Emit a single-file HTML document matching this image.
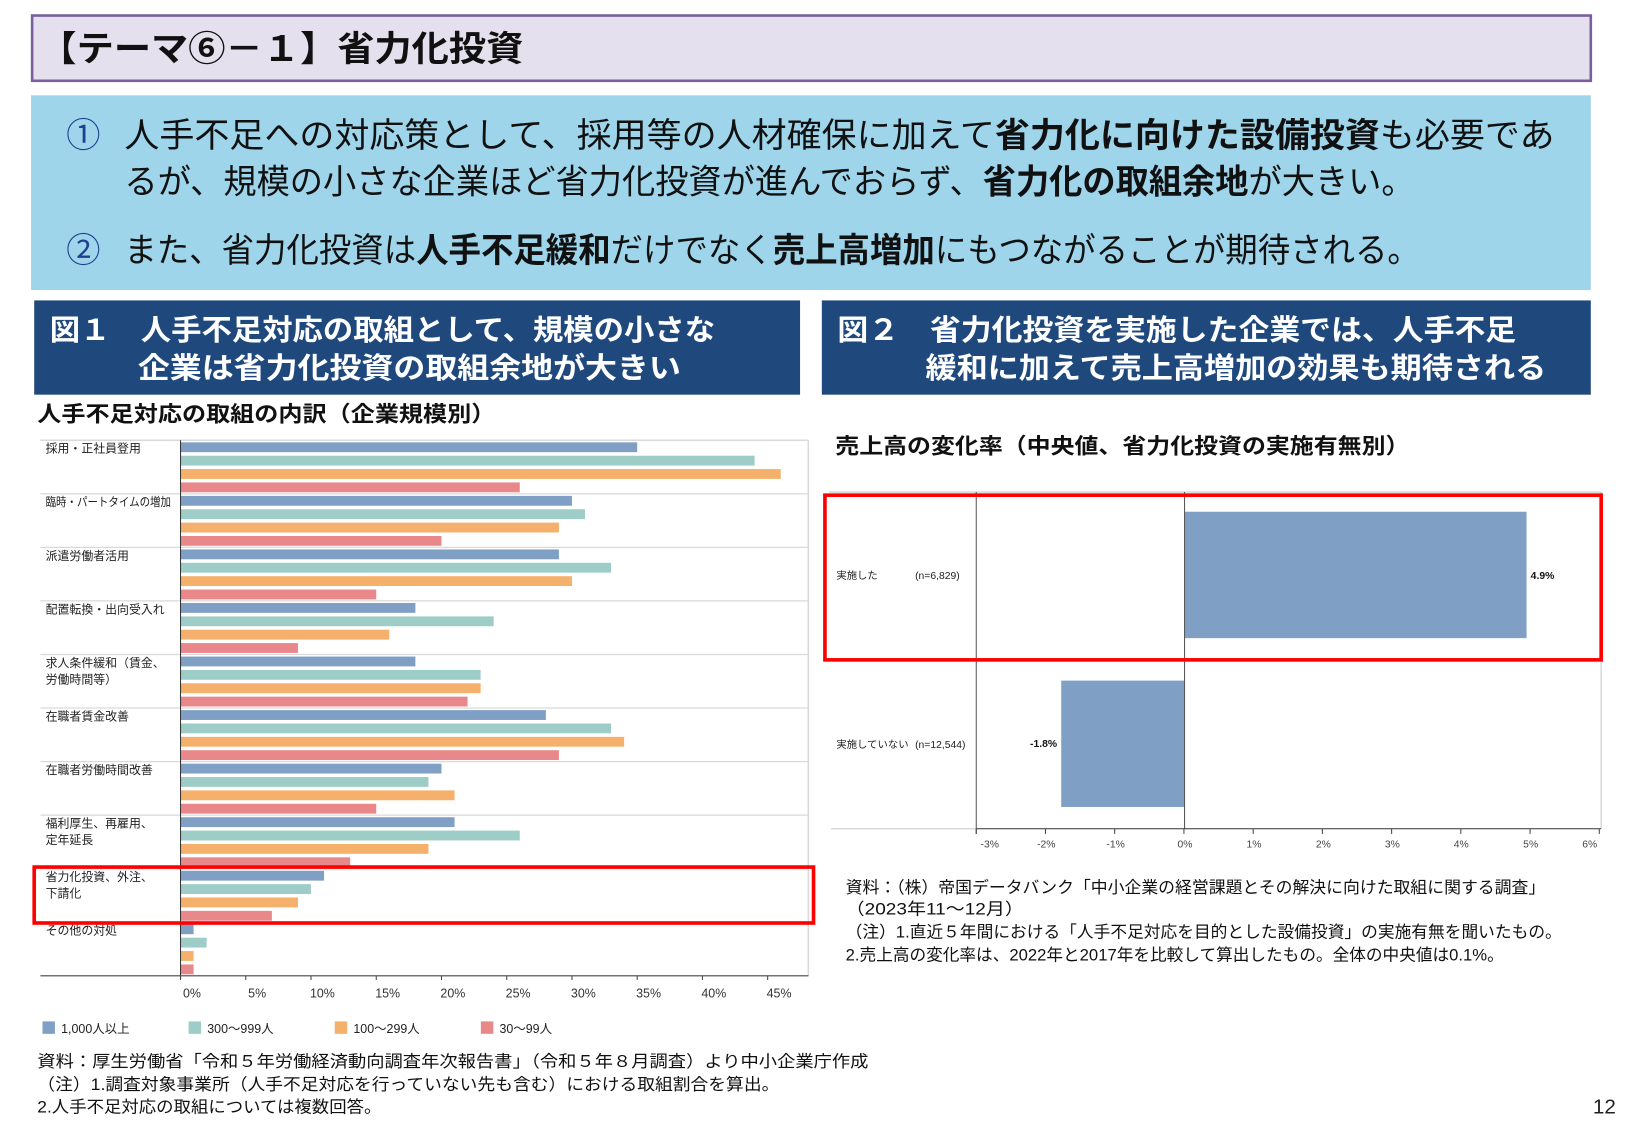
<!DOCTYPE html>
<html><head><meta charset="utf-8"><style>
html,body{margin:0;padding:0;background:#fff;}
svg{display:block;}
text{font-family:"Liberation Sans","Noto Sans CJK JP",sans-serif;}
.b{font-weight:bold;}
</style></head><body>
<svg id="s" width="1625" height="1125" viewBox="0 0 1568 1086" preserveAspectRatio="none" xmlns="http://www.w3.org/2000/svg">
<rect x="0" y="0" width="1568" height="1086" fill="#fff"/>
<rect x="31" y="15" width="1504" height="63" fill="#e5e0ed" stroke="#7b5e9c" stroke-width="2.5"/>
<text x="38" y="59" font-size="34" class="b" fill="#111" textLength="467" lengthAdjust="spacingAndGlyphs">【テーマ⑥－１】省力化投資</text>
<rect x="30" y="92" width="1505" height="188" fill="#9ed5eb"/>
<text x="64" y="142" font-size="33" fill="#1f3f8f">①</text>
<text x="64" y="253" font-size="33" fill="#1f3f8f">②</text>
<text x="120" y="142" font-size="33" fill="#111" textLength="1380" lengthAdjust="spacingAndGlyphs">人手不足への対応策として、採用等の人材確保に加えて<tspan class="b">省力化に向けた設備投資</tspan>も必要であ</text>
<text x="120" y="187" font-size="33" fill="#111" textLength="1245" lengthAdjust="spacingAndGlyphs">るが、規模の小さな企業ほど省力化投資が進んでおらず、<tspan class="b">省力化の取組余地</tspan>が大きい。</text>
<text x="120" y="253" font-size="33" fill="#111" textLength="1250" lengthAdjust="spacingAndGlyphs">また、省力化投資は<tspan class="b">人手不足緩和</tspan>だけでなく<tspan class="b">売上高増加</tspan>にもつながることが期待される。</text>
<rect x="33" y="290" width="739" height="91" fill="#1f497d"/>
<rect x="793" y="290" width="742" height="91" fill="#1f497d"/>
<text x="48" y="328" font-size="28" class="b" fill="#fff" textLength="642" lengthAdjust="spacingAndGlyphs">図１　人手不足対応の取組として、規模の小さな</text>
<text x="133" y="365" font-size="28" class="b" fill="#fff" textLength="524" lengthAdjust="spacingAndGlyphs">企業は省力化投資の取組余地が大きい</text>
<text x="808" y="328" font-size="28" class="b" fill="#fff" textLength="655" lengthAdjust="spacingAndGlyphs">図２　省力化投資を実施した企業では、人手不足</text>
<text x="893" y="365" font-size="28" class="b" fill="#fff" textLength="599" lengthAdjust="spacingAndGlyphs">緩和に加えて売上高増加の効果も期待される</text>
<text x="36" y="407" font-size="21" class="b" fill="#111" textLength="442" lengthAdjust="spacingAndGlyphs">人手不足対応の取組の内訳（企業規模別）</text>
<text x="806" y="438" font-size="21" class="b" fill="#111" textLength="554" lengthAdjust="spacingAndGlyphs">売上高の変化率（中央値、省力化投資の実施有無別）</text>
<g id="left"></g>
<line x1="800" y1="475" x2="1545" y2="475" stroke="#d9d9d9" stroke-width="1.5"/>
<line x1="1545" y1="475" x2="1545" y2="800" stroke="#d9d9d9" stroke-width="1.5"/>
<line x1="802" y1="800" x2="942" y2="800" stroke="#d9d9d9" stroke-width="1.5"/>
<rect x="1143" y="494" width="330" height="122" fill="#809fc4"/>
<rect x="1024" y="657" width="119" height="122" fill="#809fc4"/>
<line x1="942" y1="475" x2="942" y2="805" stroke="#555" stroke-width="1"/>
<line x1="1143" y1="475" x2="1143" y2="800" stroke="#555" stroke-width="1"/>
<line x1="942" y1="800" x2="1545" y2="800" stroke="#333" stroke-width="1"/>
<g id="rt"></g>
<text x="807" y="559" font-size="10" fill="#222">実施した</text>
<text x="883" y="559" font-size="10" fill="#222">(n=6,829)</text>
<text x="807" y="722" font-size="10" fill="#222">実施していない</text>
<text x="883" y="722" font-size="10" fill="#222">(n=12,544)</text>
<text x="1477" y="559" font-size="10" class="b" fill="#111">4.9%</text>
<text x="1020" y="721" font-size="10" class="b" fill="#111" text-anchor="end">-1.8%</text>
<rect x="796" y="478" width="749" height="159" fill="none" stroke="#f00" stroke-width="3.5"/>
<g font-size="16" fill="#111">
<text x="816" y="862" textLength="675" lengthAdjust="spacingAndGlyphs">資料：（株）帝国データバンク「中小企業の経営課題とその解決に向けた取組に関する調査」</text>
<text x="816" y="883" textLength="172" lengthAdjust="spacingAndGlyphs">（2023年11～12月）</text>
<text x="816" y="905" textLength="691" lengthAdjust="spacingAndGlyphs">（注）1.直近５年間における「人手不足対応を目的とした設備投資」の実施有無を聞いたもの。</text>
<text x="816" y="927" textLength="635" lengthAdjust="spacingAndGlyphs">2.売上高の変化率は、2022年と2017年を比較して算出したもの。全体の中央値は0.1%。</text>
<text x="36" y="1030" textLength="802" lengthAdjust="spacingAndGlyphs">資料：厚生労働省「令和５年労働経済動向調査年次報告書」（令和５年８月調査）より中小企業庁作成</text>
<text x="36" y="1052" textLength="716" lengthAdjust="spacingAndGlyphs">（注）1.調査対象事業所（人手不足対応を行っていない先も含む）における取組割合を算出。</text>
<text x="36" y="1074" textLength="332" lengthAdjust="spacingAndGlyphs">2.人手不足対応の取組については複数回答。</text>
</g>
<text x="1537" y="1075" font-size="20" fill="#222">12</text>
</svg>
<script>
(function(){
var NS="http://www.w3.org/2000/svg";
function el(p,t,a,txt){var e=document.createElementNS(NS,t);for(var k in a)e.setAttribute(k,a[k]);if(txt!=null)e.textContent=txt;p.appendChild(e);return e;}
var L=document.getElementById('left');
var x0=174.2,u=12.59,T0=425,gh=51.7;
var cols=["#809fc4","#9ecdc7","#f5b06b","#e8888b"];
var data=[[35,44,46,26],[30,31,29,20],[29,33,30,15],[18,24,16,9],[18,23,23,22],[28,33,34,29],[20,19,21,15],[21,26,19,13],[11,10,9,7],[1,2,1,1]];
var labs=[["採用・正社員登用"],["臨時・パートタイムの増加"],["派遣労働者活用"],["配置転換・出向受入れ"],["求人条件緩和（賃金、","労働時間等）"],["在職者賃金改善"],["在職者労働時間改善"],["福利厚生、再雇用、","定年延長"],["省力化投資、外注、","下請化"],["その他の対処"]];
el(L,'line',{x1:39,y1:T0,x2:780,y2:T0,stroke:'#d9d9d9','stroke-width':1.5});
el(L,'line',{x1:780,y1:T0,x2:780,y2:942,stroke:'#d9d9d9','stroke-width':1.5});
for(var i=0;i<10;i++){
 var gt=T0+i*gh;
 if(i>0)el(L,'line',{x1:39,y1:gt,x2:780,y2:gt,stroke:'#d9d9d9','stroke-width':1.2});
 for(var j=0;j<4;j++){el(L,'rect',{x:x0,y:gt+2+j*12.9,width:data[i][j]*u,height:9.5,fill:cols[j]});}
 for(var k=0;k<labs[i].length;k++){var a={x:44,y:gt+12+k*16,'font-size':11.5,fill:'#222'};if(i==1){a.textLength=121;a.lengthAdjust='spacingAndGlyphs';}el(L,'text',a,labs[i][k]);}
}
el(L,'line',{x1:x0,y1:T0,x2:x0,y2:945,stroke:'#333','stroke-width':1});
el(L,'line',{x1:39,y1:942,x2:780,y2:942,stroke:'#444','stroke-width':1});
for(var t=0;t<=45;t+=5){var x=x0+t*u;el(L,'line',{x1:x,y1:942,x2:x,y2:946,stroke:'#444'});el(L,'text',{x:x+11,y:963,'font-size':12,fill:'#333','text-anchor':'middle'},t+'%');}
var lx=[41,182,323,464],lt=["1,000人以上","300～999人","100～299人","30～99人"];
for(var j=0;j<4;j++){el(L,'rect',{x:lx[j],y:986,width:12,height:12,fill:cols[j]});el(L,'text',{x:lx[j]+18,y:997,'font-size':12,fill:'#222'},lt[j]);}
el(L,'rect',{x:33,y:837,width:752,height:54,fill:'none',stroke:'#f00','stroke-width':3.5});
var R=document.getElementById('rt');
var tx=[955,1009.6,1076.5,1143.4,1210,1277,1343.5,1410,1477,1534],tl=["-3%","-2%","-1%","0%","1%","2%","3%","4%","5%","6%"];
for(var i=0;i<10;i++){var tk=942+i*66.8;el(R,'line',{x1:tk,y1:800,x2:tk,y2:805,stroke:'#444'});el(R,'text',{x:tx[i],y:818,'font-size':10,fill:'#444','text-anchor':'middle'},tl[i]);}
})();
</script>
</body></html>
